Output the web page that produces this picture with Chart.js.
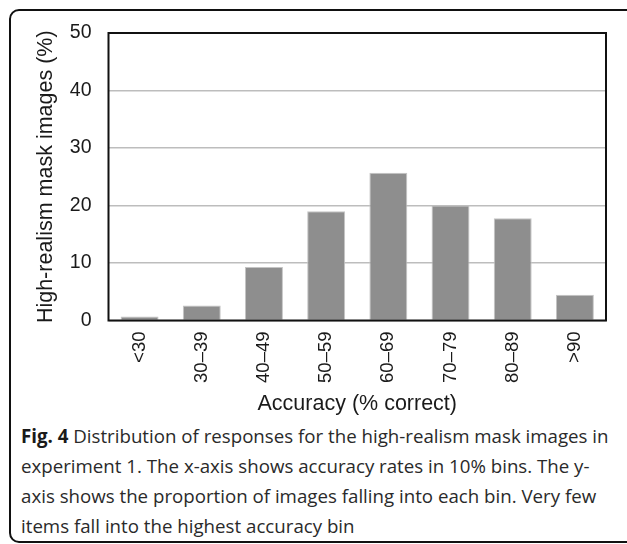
<!DOCTYPE html>
<html><head><meta charset="utf-8">
<script src="https://cdn.jsdelivr.net/npm/chart.js@4"></script>
<style>
html,body{margin:0;padding:0;background:#fff;width:627px;height:544px;overflow:hidden;}
#frame{position:absolute;left:9px;top:9px;width:640px;height:534px;border:2px solid #111;border-radius:10px;box-sizing:border-box;}
#wrap{position:absolute;left:0;top:0;width:627px;height:420px;}
#caption{position:absolute;left:21px;top:421px;font-family:"Open Sans";font-size:18.7px;line-height:30px;color:#2a2a2a;white-space:nowrap;}
#caption b{font-weight:700;color:#1a1a1a;}
</style>
</head><body>
<div id="frame"></div>
<div id="wrap"><canvas id="c" width="627" height="420"></canvas></div>
<div id="caption"><b>Fig. 4</b> Distribution of responses for the high-realism mask images in<br>experiment 1. The x-axis shows accuracy rates in 10% bins. The y-<br>axis shows the proportion of images falling into each bin. Very few<br>items fall into the highest accuracy bin</div>
<script>
const categories = ['<30', '30\u201339', '40\u201349', '50\u201359', '60\u201369', '70\u201379', '80\u201389', '>90'];
const values = [0.7, 2.6, 9.3, 19.0, 25.7, 20.0, 17.8, 4.5];
const yTicks = [0, 10, 20, 30, 40, 50];
const xTitle = 'Accuracy (% correct)';
const yTitle = 'High-realism mask images (%)';

const frame = {
  id: 'frame',
  afterDatasetsDraw(chart) {
    const a = chart.chartArea, ctx = chart.ctx;
    ctx.save();
    ctx.strokeStyle = '#111';
    ctx.lineWidth = 2;
    ctx.strokeRect(a.left, a.top, a.right - a.left, a.bottom - a.top);
    ctx.restore();
  }
};

new Chart(document.getElementById('c'), {
  type: 'bar',
  data: {
    labels: categories,
    datasets: [{
      data: values,
      backgroundColor: '#8e8e8e',
      borderColor: '#c4c4c4',
      borderWidth: 1,
      barPercentage: 0.61,
      categoryPercentage: 1.0
    }]
  },
  options: {
    responsive: false,
    animation: false,
    devicePixelRatio: 1,
    layout: { padding: { left: 33, top: 33, right: 21, bottom: 0 } },
    plugins: { legend: { display: false }, tooltip: { enabled: false } },
    scales: {
      x: {
        grid: { display: false, drawTicks: false },
        border: { display: false },
        ticks: {
          autoSkip: false, minRotation: 90, maxRotation: 90, padding: 11,
          color: '#1a1a1a', font: { family: 'Liberation Sans', size: 18.5 }
        },
        title: { display: true, text: xTitle, color: '#1a1a1a',
          font: { family: 'Liberation Sans', size: 21.5 }, padding: { top: 0, bottom: 3 } },
        afterFit(s) { s.height = 99.5; }
      },
      y: {
        min: 0, max: 50,
        afterBuildTicks(s) { s.ticks = yTicks.map(v => ({ value: v })); },
        grid: { color: '#bdbdbd', lineWidth: 1.5, drawTicks: false },
        border: { display: false },
        ticks: { padding: 17, color: '#1a1a1a', font: { family: 'Liberation Sans', size: 19.5 } },
        title: { display: true, text: yTitle, color: '#1a1a1a',
          font: { family: 'Liberation Sans', size: 21.5 }, padding: { top: 0, bottom: 0 } },
        afterFit(s) { s.width = 75.5; }
      }
    }
  },
  plugins: [frame]
});
</script>
</body></html>
